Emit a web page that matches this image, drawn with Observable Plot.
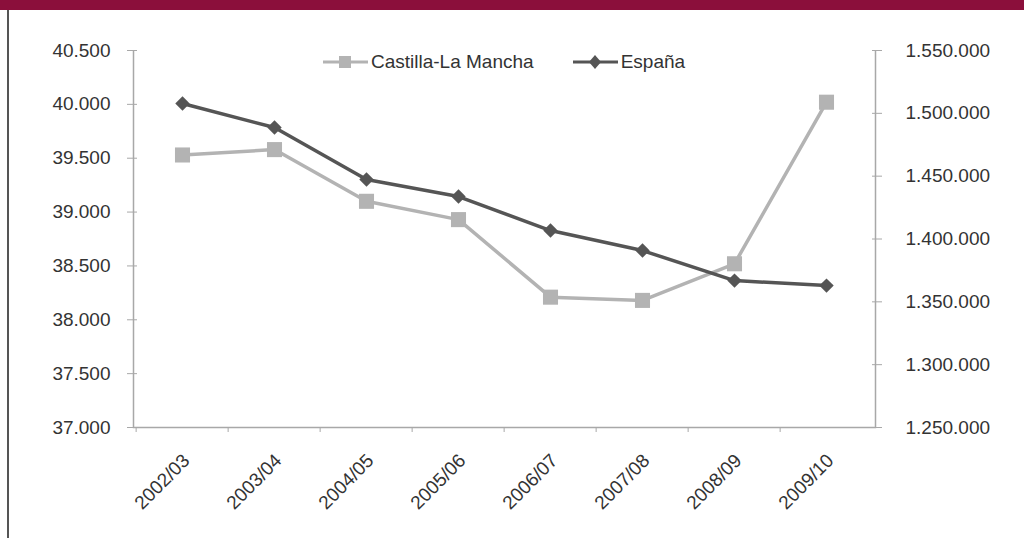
<!DOCTYPE html>
<html>
<head>
<meta charset="utf-8">
<script src="https://cdn.jsdelivr.net/npm/d3@7"></script>
<script src="https://cdn.jsdelivr.net/npm/@observablehq/plot@0.6"></script>
<style>
  html, body { margin: 0; padding: 0; background: #fff; }
  #wrap { position: relative; width: 1024px; height: 538px; overflow: hidden; font-family: "Liberation Sans", Arial, sans-serif; }
  #band { position: absolute; left: 0; top: 0; width: 1024px; height: 10px; background: #8b0f3b; }
  #lborder { position: absolute; left: 7px; top: 10px; width: 2px; height: 528px; background: #555; }
  #legend { position: absolute; top: 51px; left: 323px; display: flex; align-items: center; font-size: 19px; color: #333; }
  .item { display: flex; align-items: center; margin-right: 39px; }
  .item svg { margin-right: 3px; }
</style>
</head>
<body>
<div id="wrap">
  <div id="chart"></div>
  <div id="band"></div>
  <div id="lborder"></div>
  <div id="legend"></div>
</div>
<script>
// Data
const categories = ["2002/03", "2003/04", "2004/05", "2005/06", "2006/07", "2007/08", "2008/09", "2009/10"];
const castillaLaMancha = [39530, 39580, 39100, 38930, 38210, 38180, 38520, 40020];
const espana = [1507800, 1488700, 1447300, 1433800, 1406700, 1390800, 1366900, 1362900];
const leftTicks = [37000, 37500, 38000, 38500, 39000, 39500, 40000, 40500];
const rightTicks = [1250000, 1300000, 1350000, 1400000, 1450000, 1500000, 1550000];
const seriesNames = ["Castilla-La Mancha", "España"];
const seriesColors = ["#b3b3b3", "#555555"];

const fmt = d3.formatLocale({decimal: ",", thousands: ".", grouping: [3], currency: ["", ""]}).format(",");
const toLeft = d3.scaleLinear([1250000, 1550000], [37000, 40500]);

const rowsCLM = categories.map((c, i) => ({cat: c, v: castillaLaMancha[i]}));
const rowsES = categories.map((c, i) => ({cat: c, v: toLeft(espana[i])}));

const W = 1024, H = 538, mL = 133, mR = 149, mT = 50, mB = 111;
const pw = W - mL - mR, ph = H - mT - mB;
const bw = pw / categories.length;

const chart = Plot.plot({
  width: W, height: H,
  marginLeft: mL, marginRight: mR, marginTop: mT, marginBottom: mB,
  style: {fontFamily: "'Liberation Sans', Arial, sans-serif", fontSize: "19px", color: "#333", background: "transparent"},
  x: {type: "band", domain: categories, padding: 0},
  y: {domain: [37000, 40500]},
  marks: [
    Plot.frame({stroke: "#a8a8a8", strokeWidth: 1.5, strokeDasharray: `0 ${pw} ${pw + 2 * ph}`}),
    Plot.axisY({ticks: leftTicks, tickFormat: fmt, tickSize: 10, dx: 4, tickPadding: 17, stroke: "#a8a8a8", fill: "#333", label: null, fontSize: 19}),
    Plot.axisY({anchor: "right", ticks: rightTicks.map(toLeft), tickFormat: d => fmt(Math.round(toLeft.invert(d))), tickSize: 10, dx: -4, tickPadding: 24, stroke: "#a8a8a8", fill: "#333", label: null, fontSize: 19}),
    Plot.axisX({ticks: categories, tickFormat: () => "", tickSize: 5, dx: -bw / 2, stroke: "#a8a8a8", label: null}),
    Plot.axisX({ticks: categories, tickSize: 0, tickRotate: -45, tickPadding: 30, dx: 4, fill: "#333", label: null, fontSize: 19}),
    Plot.line(rowsCLM, {x: "cat", y: "v", stroke: seriesColors[0], strokeWidth: 3.5}),
    Plot.dot(rowsCLM, {x: "cat", y: "v", symbol: "square", r: 8.5, fill: seriesColors[0], stroke: "none"}),
    Plot.line(rowsES, {x: "cat", y: "v", stroke: seriesColors[1], strokeWidth: 3.5}),
    Plot.dot(rowsES, {x: "cat", y: "v", symbol: "diamond2", r: 6.5, fill: seriesColors[1], stroke: "none"})
  ]
});
chart.style.position = "absolute";
chart.style.left = "0px";
chart.style.top = "0px";
document.getElementById("chart").appendChild(chart);

// Legend
const legend = document.getElementById("legend");
seriesNames.forEach((name, i) => {
  const item = document.createElement("div");
  item.className = "item";
  const marker = i === 0
    ? `<rect x="16" y="5" width="12" height="12" fill="${seriesColors[i]}"/>`
    : `<path d="M22 4 L28 11 L22 18 L16 11 Z" fill="${seriesColors[i]}"/>`;
  item.innerHTML = `<svg width="45" height="22"><line x1="0" x2="45" y1="11" y2="11" stroke="${seriesColors[i]}" stroke-width="3"/>${marker}</svg><span>${name}</span>`;
  legend.appendChild(item);
});
</script>
</body>
</html>
